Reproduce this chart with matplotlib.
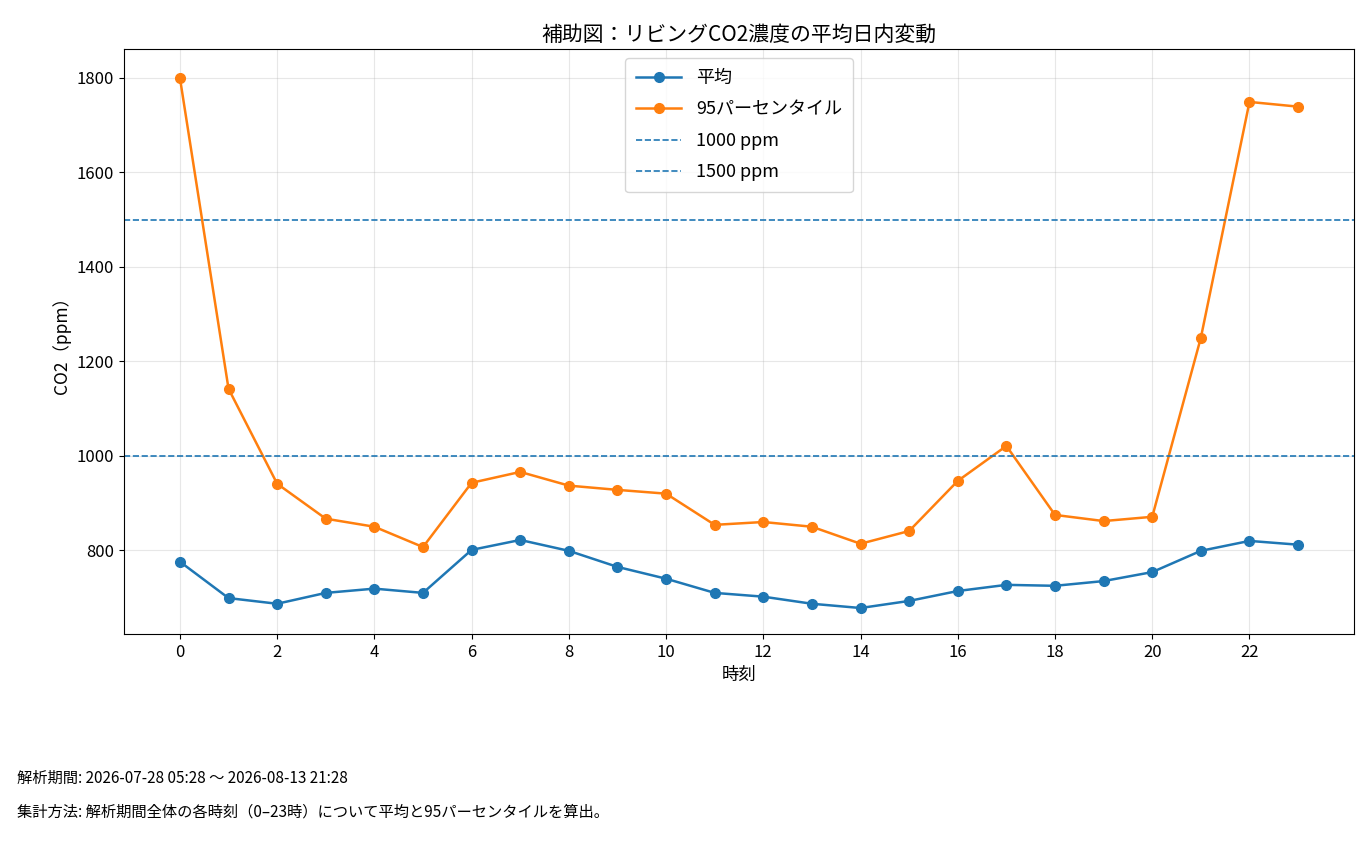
import matplotlib
matplotlib.use("Agg")
import matplotlib.pyplot as plt

plt.rcParams['font.family'] = ['Noto Sans CJK JP', 'DejaVu Sans']

hours = list(range(24))
mean_vals = [776, 699, 687, 710, 719, 710, 801, 822, 799, 765, 740, 710,
             702, 687, 678, 693, 714, 727, 725, 735, 754, 799, 820, 812]
p95_vals = [1800, 1142, 941, 867, 850, 807, 943, 966, 937, 928, 920, 854,
            860, 850, 814, 841, 947, 1021, 875, 862, 871, 1250, 1749, 1739]
thresholds = [1000, 1500]

fig = plt.figure(figsize=(13.7, 8.41), dpi=100)
ax = fig.add_axes([124/1370, 1-634/841, (1354-124)/1370, (634-49)/841])
ax.plot(hours, mean_vals, marker='o', color='#1f77b4', lw=1.8, ms=7, label='平均')
ax.plot(hours, p95_vals, marker='o', color='#ff7f0e', lw=1.8, ms=7, label='95パーセンタイル')
for t in thresholds:
    ax.axhline(t, ls='--', color='#1f77b4', lw=1.2, label=f'{t} ppm')
ax.set_xlim(-1.15, 24.15)
ax.set_ylim(623, 1861)
ax.set_xticks(range(0, 24, 2))
ax.grid(True, alpha=0.3)
ax.set_xlabel('時刻', fontsize=12.5)
ax.set_ylabel('CO2（ppm）', fontsize=12.5)
ax.set_title('補助図：リビングCO2濃度の平均日内変動', fontsize=15)
ax.tick_params(labelsize=12)
ax.legend(loc='upper center', fontsize=13, labelspacing=0.75, handlelength=2.5, borderpad=0.6)
fig.text(17/1370, 1-778/841, '解析期間: 2026-07-28 05:28 〜 2026-08-13 21:28', fontsize=11, va='center')
fig.text(17/1370, 1-812/841, '集計方法: 解析期間全体の各時刻（0–23時）について平均と95パーセンタイルを算出。', fontsize=11, va='center')
fig.savefig('out.png', dpi=100)
